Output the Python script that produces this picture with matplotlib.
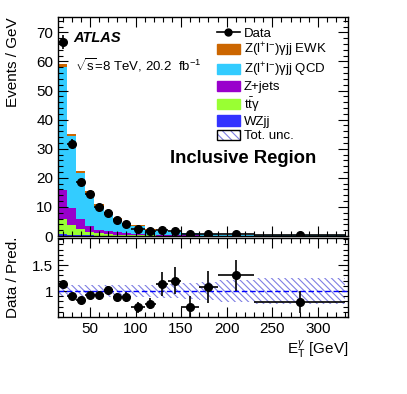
import numpy as np
import matplotlib
matplotlib.use('Agg')
from matplotlib import pyplot as plt
from matplotlib.patches import Patch
from matplotlib.lines import Line2D
from matplotlib.ticker import MultipleLocator, FixedLocator

plt.rcParams['font.family'] = ['Liberation Sans', 'DejaVu Sans']
plt.rcParams['mathtext.fontset'] = 'custom'
plt.rcParams['mathtext.rm'] = 'Liberation Sans'
plt.rcParams['mathtext.it'] = 'Liberation Sans:italic'
plt.rcParams['hatch.linewidth'] = 0.8

# bin edges of photon ET [GeV]
edges = np.array([15, 25, 35, 45, 55, 65, 75, 85, 95, 110, 122, 136, 150, 170, 190, 230, 330])

# stacked predictions, events / GeV
wzjj = [0.6, 0.4, 0.3, 0.2, 0.15, 0.1, 0.1, 0.08, 0.07, 0.05, 0.04, 0.03, 0.025, 0.015, 0.01, 0.005]
ttg = [5.4, 3.3, 2.0, 1.2, 0.8, 0.6, 0.4, 0.3, 0.2, 0.13, 0.09, 0.07, 0.05, 0.03, 0.025, 0.012]
zjets = [9.7, 6.0, 3.7, 2.0, 1.2, 1.0, 0.8, 0.6, 0.45, 0.3, 0.2, 0.17, 0.14, 0.08, 0.06, 0.03]
qcd = [42.4, 24.6, 15.6, 11.3, 8.0, 5.5, 4.5, 3.2, 2.75, 1.75, 1.25, 1.05, 0.85, 0.47, 0.36, 0.18]
ewk = [0.9, 0.9, 0.8, 0.8, 0.75, 0.5, 0.4, 0.35, 0.23, 0.17, 0.12, 0.13, 0.09, 0.055, 0.045, 0.023]

# data
data = [66.7, 31.7, 18.6, 14.3, 10.1, 7.9, 5.5, 4.0, 2.55, 1.82, 1.92, 1.74, 0.79, 0.70, 0.65, 0.198]
data_err = [2.4, 1.5, 0.95, 0.6, 0.5, 0.55, 0.5, 0.45, 0.4, 0.25, 0.39, 0.38, 0.25, 0.2, 0.15, 0.052]

# relative total uncertainty
rel_unc = [0.11, 0.11, 0.11, 0.11, 0.11, 0.11, 0.11, 0.11, 0.12, 0.12, 0.13, 0.14, 0.16, 0.17, 0.21, 0.25]

names = ['WZjj', r't$\bar{\rm t}$γ', 'Z+jets', r'Z(l$^{+}$l$^{-}$)γjj QCD', r'Z(l$^{+}$l$^{-}$)γjj EWK']
colors = ['#3333ff', '#99ff33', '#9900cc', '#33ccff', '#cc6600']
comps = [wzjj, ttg, zjets, qcd, ewk]
hatch_col = '#7f7fe2'

centers = 0.5 * (edges[1:] + edges[:-1])
halfw = 0.5 * (edges[1:] - edges[:-1])

fig = plt.figure(figsize=(4.07, 3.94), dpi=100)
ax = fig.add_axes([0.1425, 0.401, 0.7125, 0.556])
rax = fig.add_axes([0.1425, 0.1954, 0.7125, 0.2016])

base = np.zeros(len(centers))
for vals, c in zip(comps, colors):
    top = base + np.array(vals)
    ax.stairs(top, edges, baseline=base, fill=True, color=c, lw=0)
    base = top
total = base

ax.errorbar(centers, data, yerr=data_err, xerr=halfw, fmt='o', color='black',
            ms=5.5, elinewidth=1.2, capsize=0)

ax.set_xlim(15, 333)
ax.set_ylim(0, 75.3)
ax.set_ylabel('Events / GeV', fontsize=11, loc='top')
ax.yaxis.set_label_coords(-0.13, 1.0)
ax.yaxis.set_major_locator(MultipleLocator(10))
ax.yaxis.set_minor_locator(MultipleLocator(2))
ax.xaxis.set_major_locator(MultipleLocator(50))
ax.xaxis.set_minor_locator(MultipleLocator(10))
ax.tick_params(labelbottom=False)

ax.text(0.052, 0.902, 'ATLAS', transform=ax.transAxes, fontsize=10.5,
        fontweight='bold', fontstyle='italic', va='center')
ax.text(0.06, 0.78, r'$\sqrt{\rm s}$=8 TeV, 20.2  fb$^{-1}$', transform=ax.transAxes,
        fontsize=9.5, va='center')
ax.text(0.64, 0.355, 'Inclusive Region', transform=ax.transAxes, fontsize=13.3,
        fontweight='bold', ha='center', va='center')

handles = [Line2D([], [], color='black', marker='o', ms=5, lw=1.2)]
labels = ['Data']
for nm, c in list(zip(names, colors))[::-1]:
    handles.append(Patch(facecolor=c, edgecolor=c))
    labels.append(nm)
handles.append((Patch(facecolor='white', edgecolor=hatch_col, hatch='\\\\\\\\', lw=0),
                Patch(facecolor='none', edgecolor='black', lw=1.0)))
labels.append('Tot. unc.')
ax.legend(handles, labels, loc='upper left', bbox_to_anchor=(0.515, 1.0), frameon=False,
          fontsize=9.5, handlelength=1.7, handleheight=0.85, labelspacing=0.12,
          handletextpad=0.3, borderaxespad=0.35)

# ratio panel
ratio = np.array(data) / total
ratio_err = np.array(data_err) / total
rax.stairs(1 + np.array(rel_unc), edges, baseline=1 - np.array(rel_unc), fill=False,
           hatch='\\\\\\\\\\', edgecolor=hatch_col, lw=0)
rax.axhline(1, color='blue', ls='--', lw=1, dashes=(4, 2))
rax.errorbar(centers, ratio, yerr=ratio_err, xerr=halfw, fmt='o', color='black',
             ms=5.5, elinewidth=1.2, capsize=0)
rax.set_xlim(15, 333)
rax.set_ylim(0.5, 2.03)
rax.yaxis.set_major_locator(FixedLocator([1, 1.5]))
rax.set_yticklabels(['1', '1.5'])
rax.yaxis.set_minor_locator(MultipleLocator(0.1))
rax.xaxis.set_major_locator(MultipleLocator(50))
rax.xaxis.set_minor_locator(MultipleLocator(10))
rax.set_ylabel('Data / Pred.', fontsize=11)
rax.yaxis.set_label_coords(-0.13, 0.5)
rax.set_xlabel(r'E$_{\rm T}^{\gamma}$ [GeV]', fontsize=11, loc='right', labelpad=2)

for a in (ax, rax):
    a.tick_params(which='both', direction='in', top=True, right=True, labelsize=11)
    a.tick_params(which='major', length=7, width=0.8)
    a.tick_params(which='minor', length=3.5, width=0.8)
    for s in a.spines.values():
        s.set_linewidth(1.0)

fig.savefig('out.png', dpi=100)
